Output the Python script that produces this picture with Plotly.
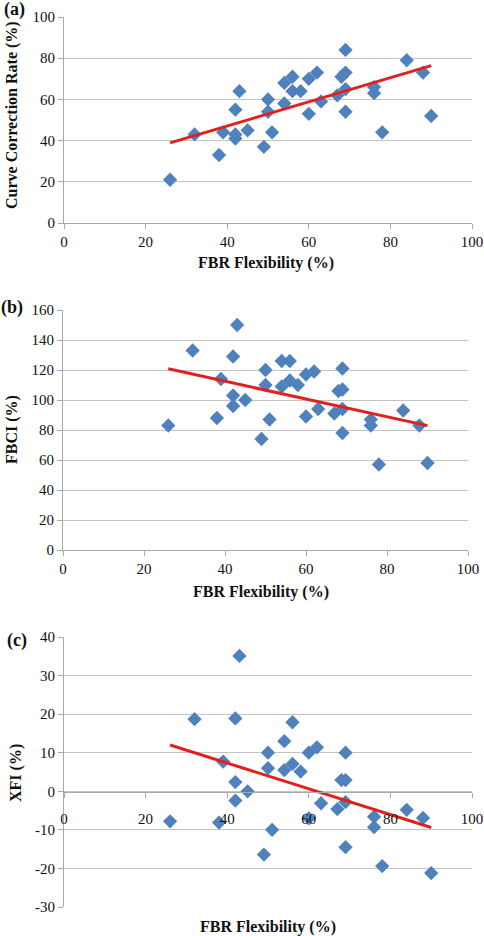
import plotly.graph_objects as go

W, H = 484, 936

# FBR flexibility (%) – shared x values (34 patients)
fbr = [26, 32, 38, 39, 42, 42, 42, 43, 45, 49, 50, 50, 51, 54, 54, 56, 56,
       58, 60, 60, 62, 63, 67, 68, 69, 69, 69, 69, 76, 76, 78, 84, 88, 90]

# (a) Curve correction rate (%)
ccr = [21, 43, 33, 44, 55, 43, 41, 64, 45, 37, 60, 54, 44, 68, 58, 71, 64,
       64, 70, 53, 73, 59, 62, 71, 73, 84, 65, 54, 66, 63, 44, 79, 73, 52]

# (b) FBCI (%)
fbci = [83, 133, 88, 114, 129, 103, 96, 150, 100, 74, 120, 110, 87, 126, 109, 126, 113,
        110, 117, 89, 119, 94, 91, 106, 107, 121, 94, 78, 87, 83, 57, 93, 83, 58]

# (c) XFI (%)
xfi = [-7.8, 18.7, -8.1, 7.7, 18.9, 2.4, -2.4, 35.1, 0.0, -16.4, 10.0, 6.0, -10.0, 13.0, 5.5, 17.9, 7.1,
       5.1, 10.0, -7.0, 11.4, -3.1, -4.6, 2.9, 2.9, 10.0, -2.8, -14.5, -6.6, -9.3, -19.4, -4.8, -6.9, -21.2]

# Trend lines (end points)
trend_x = [26, 90]
trend_a = [38.9, 76.4]
trend_b = [120.8, 82.9]
trend_c = [12.0, -9.4]

# Tick labels for panel (c) y axis (plain hyphen minus, as in the original)
xfi_ticks = [-30, -20, -10, 0, 10, 20, 30, 40]
xfi_ticktext = ["-30", "-20", "-10", "0", "10", "20", "30", "40"]

BLUE = "#4f81bd"
RED = "#e3211c"
GRID = "#c3c3c3"
AXIS = "#a9a9a9"
FONT = "Liberation Serif, Times New Roman, serif"


def py(p):
    return 1 - p / H


def pxf(p):
    return p / W


fig = go.Figure()

panels = [
    ("", "y", ccr, trend_a),
    ("2", "y2", fbci, trend_b),
    ("3", "y3", xfi, trend_c),
]
for suf, ya, ys, tr in panels:
    fig.add_trace(go.Scatter(
        x=fbr, y=ys, mode="markers", xaxis="x" + suf, yaxis=ya,
        marker=dict(symbol="diamond", size=11, color=BLUE, line=dict(width=0)),
        showlegend=False, cliponaxis=False))
    fig.add_trace(go.Scatter(
        x=trend_x, y=tr, mode="lines", xaxis="x" + suf, yaxis=ya,
        line=dict(color=RED, width=3), showlegend=False))

tickfont = dict(family=FONT, size=15, color="#111111")

xcommon = dict(range=[0, 100], dtick=20, tick0=0, showgrid=False, zeroline=False,
               showline=True, linecolor=AXIS, linewidth=1, ticks="outside",
               ticklen=5, tickcolor=AXIS, tickfont=tickfont, automargin=False)
ycommon = dict(showgrid=True, gridcolor=GRID, gridwidth=1, zeroline=False,
               showline=True, linecolor=AXIS, linewidth=1, ticks="outside",
               ticklen=5, tickcolor=AXIS, tickfont=tickfont, automargin=False)

fig.update_layout(
    template="none",
    width=W, height=H,
    margin=dict(l=0, r=0, t=0, b=0, autoexpand=False),
    paper_bgcolor="white", plot_bgcolor="white",
    font=dict(family=FONT),
    xaxis=dict(domain=[pxf(64), pxf(472)], anchor="y", **xcommon),
    yaxis=dict(domain=[py(223), py(17)], range=[0, 100], dtick=20, anchor="x", **ycommon),
    xaxis2=dict(domain=[pxf(63), pxf(468)], anchor="y2", **xcommon),
    yaxis2=dict(domain=[py(550), py(310)], range=[0, 160], dtick=20, anchor="x2", **ycommon),
    xaxis3=dict(domain=[pxf(64), pxf(472)], anchor="free", position=py(792),
                ticklabelstandoff=8, **xcommon),
    yaxis3=dict(domain=[py(907), py(637)], range=[-30, 40], tickvals=xfi_ticks,
                ticktext=xfi_ticktext, anchor="x3", **ycommon),
)

titlefont = dict(family=FONT, size=16, color="#111111")
labelfont = dict(family=FONT, size=18, color="#111111")

annots = [
    # panel letters
    dict(text="<b>(a)</b>", x=pxf(14), y=py(10), font=labelfont),
    dict(text="<b>(b)</b>", x=pxf(12), y=py(308), font=labelfont),
    dict(text="<b>(c)</b>", x=pxf(17), y=py(640), font=labelfont),
    # x titles
    dict(text="<b>FBR Flexibility (%)</b>", x=pxf(266), y=py(263), font=titlefont),
    dict(text="<b>FBR Flexibility (%)</b>", x=pxf(261), y=py(592), font=titlefont),
    dict(text="<b>FBR Flexibility (%)</b>", x=pxf(268), y=py(927), font=titlefont),
    # y titles
    dict(text="<b>Curve Correction Rate (%)</b>", x=pxf(12), y=py(115), font=titlefont, textangle=-90),
    dict(text="<b>FBCI (%)</b>", x=pxf(12), y=py(430), font=titlefont, textangle=-90),
    dict(text="<b>XFI (%)</b>", x=pxf(16), y=py(773), font=titlefont, textangle=-90),
]
for a in annots:
    a.update(xref="paper", yref="paper", showarrow=False, xanchor="center", yanchor="middle")
fig.update_layout(annotations=annots)

fig.write_html("out.html", config={"displayModeBar": False},
               post_script="document.body.style.margin='0';document.body.style.overflow='hidden';")
